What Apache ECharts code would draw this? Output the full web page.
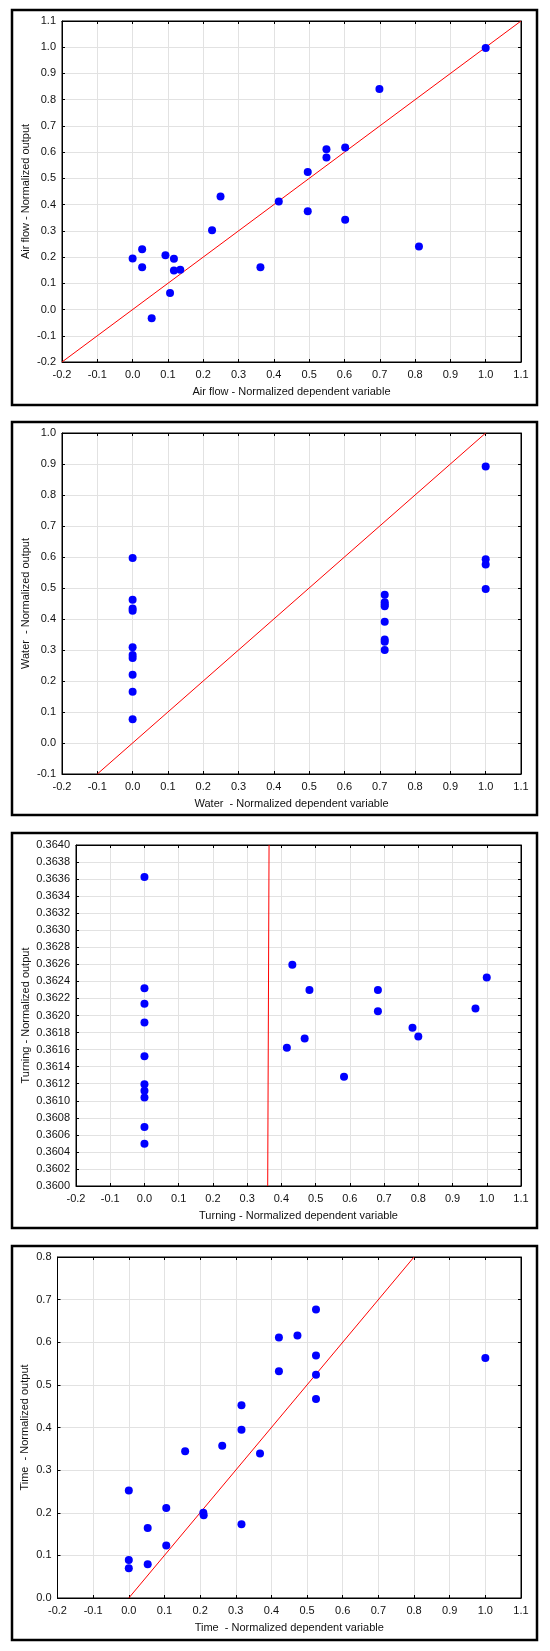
<!DOCTYPE html>
<html>
<head>
<meta charset="utf-8">
<script src="https://cdn.jsdelivr.net/npm/echarts@6/dist/echarts.min.js"></script>
<style>
html,body{margin:0;padding:0;background:#fff;}
#chart{width:550px;height:1651px;}
</style>
</head>
<body>
<div id="chart"></div>
<script>
// ---- Data ----
const airX = [0.0, 0.027, 0.027, 0.054, 0.093, 0.117, 0.117, 0.135, 0.106, 0.225, 0.249, 0.362, 0.414, 0.496, 0.496, 0.549, 0.549, 0.602, 0.602, 0.699, 0.811, 1.0];
const airY = [0.195, 0.230, 0.161, -0.033, 0.207, 0.194, 0.149, 0.152, 0.063, 0.302, 0.431, 0.161, 0.412, 0.524, 0.375, 0.611, 0.580, 0.618, 0.342, 0.841, 0.240, 0.997];

const waterX = [0, 0, 0, 0, 0, 0, 0, 0, 0, 0, 0.714, 0.714, 0.714, 0.714, 0.714, 0.714, 0.714, 0.714, 1.0, 1.0, 1.0, 1.0];
const waterY = [0.597, 0.462, 0.434, 0.427, 0.309, 0.284, 0.274, 0.220, 0.165, 0.077, 0.478, 0.454, 0.447, 0.441, 0.391, 0.334, 0.327, 0.300, 0.892, 0.593, 0.576, 0.497];

const turnX = [0, 0, 0, 0, 0, 0, 0, 0, 0, 0, 0.432, 0.482, 0.468, 0.416, 0.583, 0.682, 0.682, 0.783, 0.800, 0.967, 1.0];
const turnY = [0.363625, 0.36232, 0.362137, 0.361918, 0.361523, 0.361195, 0.361117, 0.361039, 0.360691, 0.360496, 0.362594, 0.3623, 0.36173, 0.361621, 0.361281, 0.3623, 0.36205, 0.361855, 0.361754, 0.362082, 0.362445];

const timeX = [0.0, 0.0, 0.0, 0.053, 0.053, 0.105, 0.105, 0.158, 0.209, 0.210, 0.262, 0.316, 0.316, 0.316, 0.368, 0.421, 0.421, 0.473, 0.525, 0.525, 0.525, 0.525, 1.0];
const timeY = [0.252, 0.089, 0.070, 0.164, 0.079, 0.211, 0.123, 0.344, 0.200, 0.194, 0.357, 0.452, 0.395, 0.173, 0.339, 0.611, 0.532, 0.616, 0.677, 0.569, 0.524, 0.467, 0.563];

// identity (y = x) line end points
const airLine = [-0.2, 1.1];
const waterLine = [-0.1, 1.0];
const turnLine = [0.36, 0.364];
const timeLine = [0.0, 0.8];

// axis ranges [min, max, interval]
const xRange = [-0.2, 1.1, 0.1];
const airYRange = [-0.2, 1.1, 0.1];
const waterYRange = [-0.1, 1.0, 0.1];
const turnYRange = [0.36, 0.364, 0.0002];
const timeYRange = [0.0, 0.8, 0.1];

const xNames = ['Air flow - Normalized dependent variable', 'Water  - Normalized dependent variable', 'Turning - Normalized dependent variable', 'Time  - Normalized dependent variable'];
const yNames = ['Air flow - Normalized output', 'Water  - Normalized output', 'Turning - Normalized output', 'Time  - Normalized output'];

// ---- Build ----
const panels = [
  {x: airX, y: airY, line: airLine, yr: airYRange, dec: 1, grid: {left: 62, top: 21, width: 459, height: 341}, yGap: 31, frame: [12, 10, 525, 395]},
  {x: waterX, y: waterY, line: waterLine, yr: waterYRange, dec: 1, grid: {left: 62, top: 433, width: 459, height: 341}, yGap: 31, frame: [12, 422, 525, 393]},
  {x: turnX, y: turnY, line: turnLine, yr: turnYRange, dec: 4, grid: {left: 76, top: 845, width: 445, height: 341}, yGap: 45, frame: [12, 833, 525, 395]},
  {x: timeX, y: timeY, line: timeLine, yr: timeYRange, dec: 1, grid: {left: 57.5, top: 1257, width: 463.5, height: 341}, yGap: 27, frame: [12, 1246, 525, 394]}
];

const FONT = 'Liberation Sans, Arial, sans-serif';
const TXT = '#111';
function fmt(d) {
  return function (v) { if (Math.abs(v) < 1e-12) v = 0; return v.toFixed(d); };
}

const grids = [], xAxes = [], yAxes = [], series = [], graphics = [];
panels.forEach((p, i) => {
  grids.push(Object.assign({show: true, borderColor: '#000', borderWidth: 1, backgroundColor: '#fff'}, p.grid));
  const common = {type: 'value', gridIndex: i, axisLine: {show: true, onZero: false, lineStyle: {color: '#000', width: 1}},
    axisTick: {show: true, inside: true, length: 3, lineStyle: {color: '#000'}}};
  xAxes.push(Object.assign({}, common, {
    position: 'bottom', min: xRange[0], max: xRange[1], interval: xRange[2],
    axisLabel: {color: TXT, fontSize: 11, fontFamily: FONT, margin: 7, formatter: fmt(1)},
    splitLine: {show: true, lineStyle: {color: '#e2e2e2', width: 1}},
    name: xNames[i], nameLocation: 'middle', nameGap: 24.5, nameMoveOverlap: false,
    nameTextStyle: {color: TXT, fontSize: 11, fontFamily: FONT}
  }));
  xAxes.push(Object.assign({}, common, {
    position: 'top', min: xRange[0], max: xRange[1], interval: xRange[2],
    axisLabel: {show: false}, splitLine: {show: false}
  }));
  yAxes.push(Object.assign({}, common, {
    position: 'left', min: p.yr[0], max: p.yr[1], interval: p.yr[2],
    axisLabel: {color: TXT, fontSize: 11, fontFamily: FONT, margin: 6, formatter: fmt(p.dec)},
    splitLine: {show: true, lineStyle: {color: '#e2e2e2', width: 1}},
    name: yNames[i], nameLocation: 'middle', nameGap: p.yGap, nameMoveOverlap: false,
    nameTextStyle: {color: TXT, fontSize: 11, fontFamily: FONT}
  }));
  yAxes.push(Object.assign({}, common, {
    position: 'right', min: p.yr[0], max: p.yr[1], interval: p.yr[2],
    axisLabel: {show: false}, splitLine: {show: false}
  }));
  series.push({
    type: 'line', xAxisIndex: 2 * i, yAxisIndex: 2 * i, symbol: 'none', silent: true,
    data: [[p.line[0], p.line[0]], [p.line[1], p.line[1]]],
    lineStyle: {color: '#ff0000', width: 1}, z: 2
  });
  series.push({
    type: 'scatter', xAxisIndex: 2 * i, yAxisIndex: 2 * i, symbol: 'circle', symbolSize: 8,
    data: p.x.map((v, k) => [v, p.y[k]]),
    itemStyle: {color: '#0000ff', opacity: 1}, z: 3
  });
  graphics.push({
    type: 'rect', shape: {x: p.frame[0], y: p.frame[1], width: p.frame[2], height: p.frame[3]},
    style: {fill: null, stroke: '#000', lineWidth: 2.5}, z: 100
  });
});

const chart = echarts.init(document.getElementById('chart'), null, {renderer: 'canvas'});
chart.setOption({
  animation: false,
  backgroundColor: '#fff',
  grid: grids,
  xAxis: xAxes,
  yAxis: yAxes,
  series: series,
  graphic: graphics
});
</script>
</body>
</html>
